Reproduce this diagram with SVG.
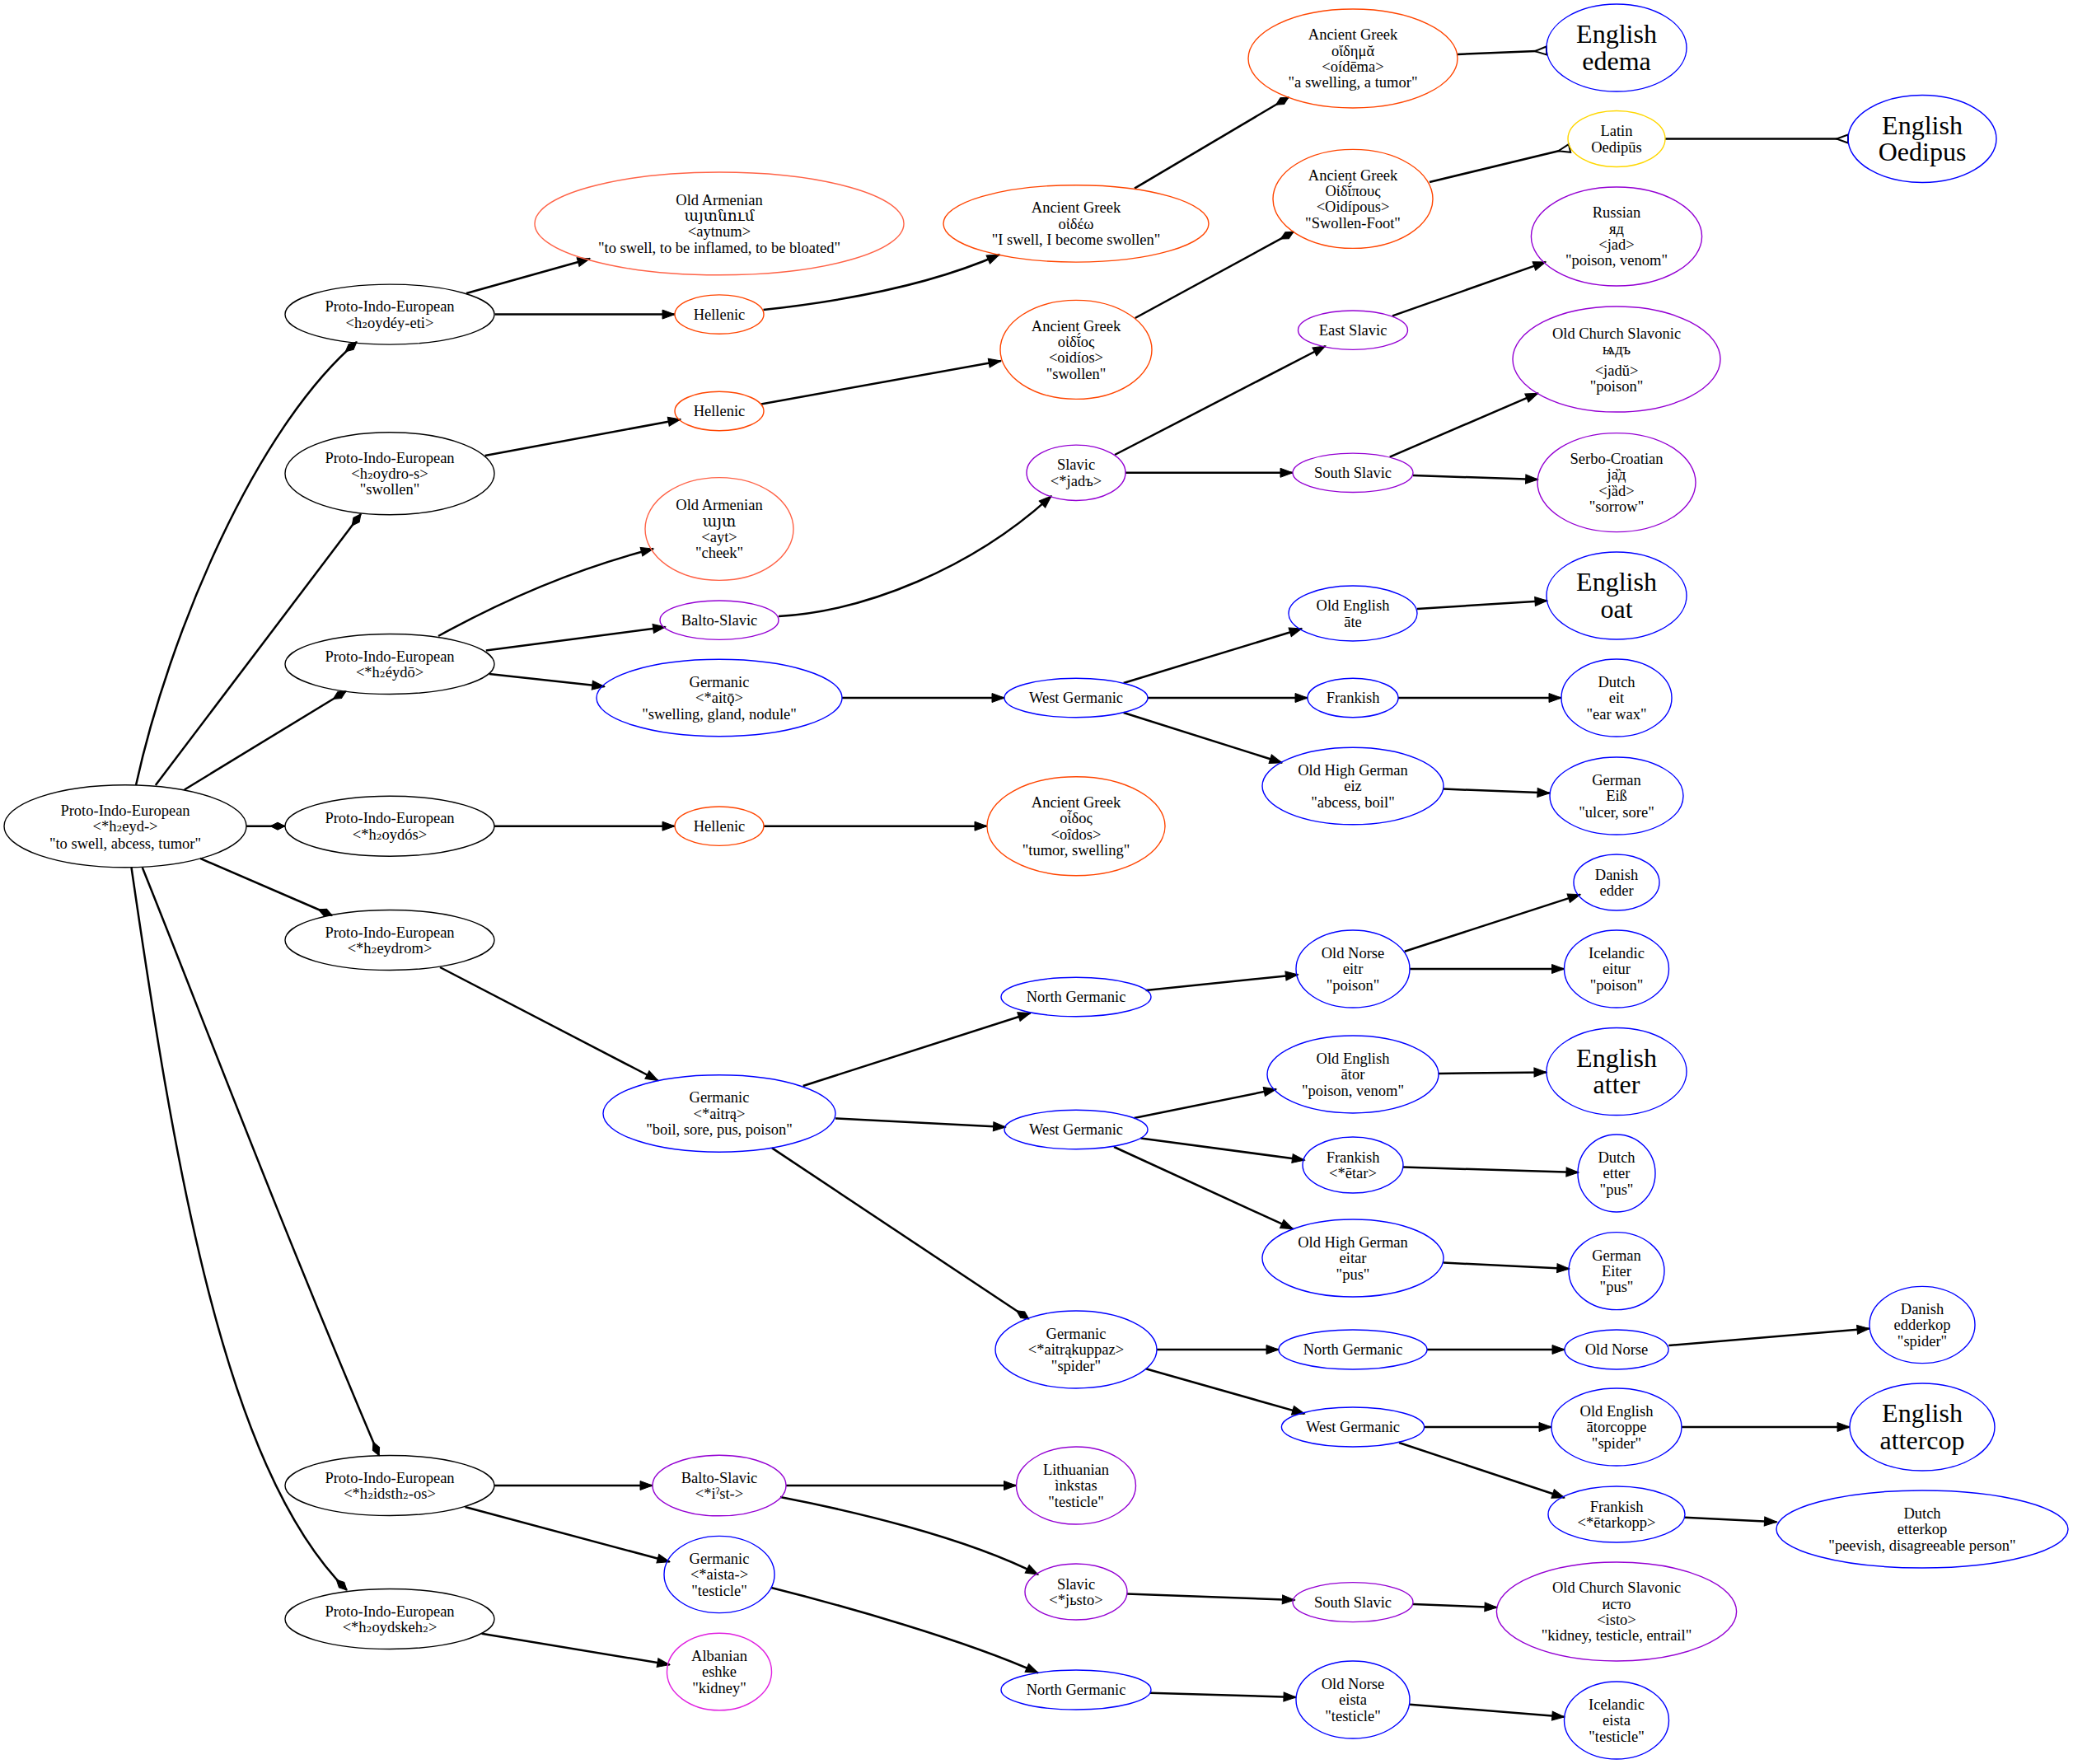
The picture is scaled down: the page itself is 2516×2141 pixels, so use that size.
<svg xmlns="http://www.w3.org/2000/svg" width="2516" height="2141" viewBox="0 0 2516 2141">
<style>
.t{font-family:"Liberation Serif","DejaVu Serif","Noto Sans",serif;font-size:18.5px;text-anchor:middle;fill:#000}
.big{font-size:32px}
.s{font-family:"DejaVu Serif","Liberation Serif",serif;font-size:17px}
ellipse{fill:none;stroke-width:1.4}
.k{stroke:#000}.gr{stroke:#ff4500}.hy{stroke:#ff6347}.sl{stroke:#9400d3}.ge{stroke:#0000ff}.la{stroke:#ffd700}.sq{stroke:#e020e0}
#edges path{fill:none;stroke:#000;stroke-width:2.5}
.a{marker-end:url(#arr)}.d{marker-end:url(#dia)}.o{marker-end:url(#oinv)}
</style>
<defs>
<marker id="arr" markerUnits="userSpaceOnUse" markerWidth="16" markerHeight="12" refX="15" refY="6" orient="auto" overflow="visible"><path d="M0,0.5 L15,6 L0,11.5 z" fill="#000" stroke="#000" stroke-width="1"/></marker>
<marker id="dia" markerUnits="userSpaceOnUse" markerWidth="19" markerHeight="11" refX="18" refY="5" orient="auto" overflow="visible"><path d="M0,5 L9,0.5 L18,5 L9,9.5 z" fill="#000" stroke="#000" stroke-width="1"/></marker>
<marker id="oinv" markerUnits="userSpaceOnUse" markerWidth="16" markerHeight="12" refX="14" refY="5" orient="auto" overflow="visible"><path d="M14,0 L0,5 L14,10 z" fill="#fff" stroke="#000" stroke-width="2"/></marker>
</defs>
<rect width="2516" height="2141" fill="#fff"/>
<g id="edges">
<path class="d" d="M165,953 C205,770 310,520 433,415"/>
<path class="d" d="M188.8,953 L438,623.8"/>
<path class="d" d="M223.8,958.5 L419.8,839"/>
<path class="d" d="M299,1002.7 L346,1002.7"/>
<path class="d" d="M243,1041.9 L403,1111"/>
<path class="d" d="M172.8,1053 C240,1220 330,1460 460,1766.8"/>
<path class="d" d="M159.5,1053 C210,1400 270,1780 421,1930"/>
<path class="a" d="M566,356 L716,314"/>
<path class="a" d="M600.6,381.6 L819,381.6"/>
<path class="a" d="M926.5,376 C1000,368 1120,350 1213,309"/>
<path class="d" d="M1377,228.6 L1564,118"/>
<path class="o" d="M1768.6,66 L1877,61.5"/>
<path class="a" d="M588.6,553 L826,509"/>
<path class="a" d="M923.7,490.4 L1215,438"/>
<path class="d" d="M1377.7,386 L1570,281.4"/>
<path class="o" d="M1735,221 L1905,180"/>
<path class="o" d="M2021,168.5 L2243,168.5"/>
<path class="a" d="M532,772 C590,740 680,695 793,666"/>
<path class="a" d="M589.8,789.6 L807.6,761"/>
<path class="a" d="M593.8,818 L733.7,833.3"/>
<path class="a" d="M945,748 C1050,742 1180,690 1276,602"/>
<path class="a" d="M1353,552 L1608.7,420"/>
<path class="a" d="M1366,573.8 L1569,573.8"/>
<path class="a" d="M1690,383.4 L1876,317.9"/>
<path class="a" d="M1686.7,554.6 L1866.7,477.2"/>
<path class="a" d="M1715,577 L1866.7,582"/>
<path class="a" d="M1022,847 L1219,847"/>
<path class="a" d="M1363.7,829 L1580,763"/>
<path class="a" d="M1393,847 L1587,847"/>
<path class="a" d="M1363.7,865 L1556,925.7"/>
<path class="a" d="M1720,739 L1878,729"/>
<path class="a" d="M1697,847 L1895,847"/>
<path class="a" d="M1752,957.6 L1881,962.6"/>
<path class="a" d="M600,1002.7 L819,1002.7"/>
<path class="a" d="M927,1002.7 L1198,1002.7"/>
<path class="a" d="M534,1174 L798.7,1311.5"/>
<path class="a" d="M974.7,1318 L1250.7,1229.5"/>
<path class="a" d="M1014,1357.4 L1220.6,1368"/>
<path class="d" d="M937,1393.4 L1248.7,1600.8"/>
<path class="a" d="M1390.6,1202 L1575.4,1183"/>
<path class="a" d="M1704.8,1154.8 L1918,1085.6"/>
<path class="a" d="M1711,1176 L1898.5,1176"/>
<path class="a" d="M1376.5,1357 L1549,1322"/>
<path class="a" d="M1384.5,1381.6 L1583.4,1408"/>
<path class="a" d="M1352,1392 L1569.4,1491.7"/>
<path class="a" d="M1746,1303 L1877,1301.4"/>
<path class="a" d="M1703,1416.6 L1916,1423"/>
<path class="a" d="M1752,1532.6 L1904.8,1539.9"/>
<path class="a" d="M1404,1638 L1552,1638"/>
<path class="a" d="M1390.6,1661.3 L1583.4,1715.9"/>
<path class="a" d="M1732,1638 L1899,1638"/>
<path class="a" d="M2025.3,1633 L2269,1612.6"/>
<path class="a" d="M1728.6,1732 L1883,1732"/>
<path class="a" d="M1698,1751 L1898.8,1817.7"/>
<path class="a" d="M2041,1732 L2245,1732"/>
<path class="a" d="M2045,1841.8 L2156.5,1847.3"/>
<path class="a" d="M600,1803 L792,1803"/>
<path class="a" d="M564.5,1829 L812.8,1895.5"/>
<path class="a" d="M954,1803 L1233.5,1803"/>
<path class="a" d="M947,1817 C1030,1833 1170,1865 1260,1911"/>
<path class="a" d="M1367.7,1934.6 L1571.4,1941.9"/>
<path class="a" d="M1715,1946.9 L1817,1951"/>
<path class="a" d="M936,1927 C1020,1948 1170,1990 1260,2030.5"/>
<path class="a" d="M1395.8,2054.7 L1573,2060"/>
<path class="a" d="M1711,2068.7 L1898.8,2083.8"/>
<path class="a" d="M584.6,1982.8 L812.8,2020.5"/>
</g>
<g id="pie_root"><ellipse class="k" cx="152" cy="1002.7" rx="147" ry="50"/><text class="t" x="152" y="989.6"><tspan x="152">Proto-Indo-European</tspan><tspan x="152" dy="19.4">&lt;*h<tspan class="s">₂</tspan>eyd-&gt;</tspan><tspan x="152" dy="20.5">"to swell, abcess, tumor"</tspan></text></g>
<g id="pie_oydeyeti"><ellipse class="k" cx="473" cy="381.6" rx="127" ry="36.5"/><text class="t" x="473" y="378.2"><tspan x="473">Proto-Indo-European</tspan><tspan x="473" dy="19.4">&lt;h<tspan class="s">₂</tspan>oydéy-eti&gt;</tspan></text></g>
<g id="pie_oydros"><ellipse class="k" cx="473" cy="574.7" rx="127" ry="50"/><text class="t" x="473" y="561.6"><tspan x="473">Proto-Indo-European</tspan><tspan x="473" dy="19.4">&lt;h<tspan class="s">₂</tspan>oydro-s&gt;</tspan><tspan x="473" dy="19.4">"swollen"</tspan></text></g>
<g id="pie_eydo"><ellipse class="k" cx="473" cy="806" rx="127" ry="36.5"/><text class="t" x="473" y="802.6"><tspan x="473">Proto-Indo-European</tspan><tspan x="473" dy="19.4">&lt;*h<tspan class="s">₂</tspan>éydō&gt;</tspan></text></g>
<g id="pie_oydos"><ellipse class="k" cx="473" cy="1002.7" rx="127" ry="36.5"/><text class="t" x="473" y="999.3"><tspan x="473">Proto-Indo-European</tspan><tspan x="473" dy="19.4">&lt;*h<tspan class="s">₂</tspan>oydós&gt;</tspan></text></g>
<g id="pie_eydrom"><ellipse class="k" cx="473" cy="1141" rx="127" ry="36.5"/><text class="t" x="473" y="1137.6"><tspan x="473">Proto-Indo-European</tspan><tspan x="473" dy="19.4">&lt;*h<tspan class="s">₂</tspan>eydrom&gt;</tspan></text></g>
<g id="pie_idsthos"><ellipse class="k" cx="473" cy="1803" rx="127" ry="36.5"/><text class="t" x="473" y="1799.6"><tspan x="473">Proto-Indo-European</tspan><tspan x="473" dy="19.4">&lt;*h<tspan class="s">₂</tspan>idsth<tspan class="s">₂</tspan>-os&gt;</tspan></text></g>
<g id="pie_oydskeh"><ellipse class="k" cx="473" cy="1965" rx="127" ry="36.5"/><text class="t" x="473" y="1961.6"><tspan x="473">Proto-Indo-European</tspan><tspan x="473" dy="19.4">&lt;*h<tspan class="s">₂</tspan>oydskeh<tspan class="s">₂</tspan>&gt;</tspan></text></g>
<g id="xcl_aytnum"><ellipse class="hy" cx="873" cy="271.4" rx="224" ry="62.4"/><text class="t" x="873" y="248.6"><tspan x="873">Old Armenian</tspan><tspan x="873" dy="19.4">այտնում</tspan><tspan x="873" dy="19.4">&lt;aytnum&gt;</tspan><tspan x="873" dy="19.4">"to swell, to be inflamed, to be bloated"</tspan></text></g>
<g id="hel1"><ellipse class="gr" cx="873" cy="381.6" rx="54" ry="23.7"/><text class="t" x="873" y="387.9">Hellenic</text></g>
<g id="hel2"><ellipse class="gr" cx="873" cy="499" rx="54" ry="23.7"/><text class="t" x="873" y="505.3">Hellenic</text></g>
<g id="xcl_ayt"><ellipse class="hy" cx="873" cy="642" rx="90" ry="62.4"/><text class="t" x="873" y="619.2"><tspan x="873">Old Armenian</tspan><tspan x="873" dy="19.4">այտ</tspan><tspan x="873" dy="19.4">&lt;ayt&gt;</tspan><tspan x="873" dy="19.4">"cheek"</tspan></text></g>
<g id="bsl1"><ellipse class="sl" cx="873" cy="752.7" rx="72" ry="23.7"/><text class="t" x="873" y="759">Balto-Slavic</text></g>
<g id="gem_aito"><ellipse class="ge" cx="873" cy="847" rx="149" ry="46.7"/><text class="t" x="873" y="833.9"><tspan x="873">Germanic</tspan><tspan x="873" dy="19.4">&lt;*aitǭ&gt;</tspan><tspan x="873" dy="19.4">"swelling, gland, nodule"</tspan></text></g>
<g id="hel3"><ellipse class="gr" cx="873" cy="1002.7" rx="54" ry="23.7"/><text class="t" x="873" y="1009">Hellenic</text></g>
<g id="gem_aitra"><ellipse class="ge" cx="873" cy="1351.5" rx="141" ry="46.7"/><text class="t" x="873" y="1338.4"><tspan x="873">Germanic</tspan><tspan x="873" dy="19.4">&lt;*aitrą&gt;</tspan><tspan x="873" dy="19.4">"boil, sore, pus, poison"</tspan></text></g>
<g id="bsl2"><ellipse class="sl" cx="873" cy="1803" rx="81" ry="36.8"/><text class="t" x="873" y="1799.6"><tspan x="873">Balto-Slavic</tspan><tspan x="873" dy="19.4">&lt;*iˀst-&gt;</tspan></text></g>
<g id="gem_aista"><ellipse class="ge" cx="873" cy="1911" rx="67" ry="46.6"/><text class="t" x="873" y="1897.9"><tspan x="873">Germanic</tspan><tspan x="873" dy="19.4">&lt;*aista-&gt;</tspan><tspan x="873" dy="19.4">"testicle"</tspan></text></g>
<g id="sqi_eshke"><ellipse class="sq" cx="873" cy="2029" rx="63.5" ry="46.8"/><text class="t" x="873" y="2015.9"><tspan x="873">Albanian</tspan><tspan x="873" dy="19.4">eshke</tspan><tspan x="873" dy="19.4">"kidney"</tspan></text></g>
<g id="grc_oideo"><ellipse class="gr" cx="1306" cy="271.4" rx="161" ry="46.7"/><text class="t" x="1306" y="258.3"><tspan x="1306">Ancient Greek</tspan><tspan x="1306" dy="19.4">οἰδέω</tspan><tspan x="1306" dy="19.4">"I swell, I become swollen"</tspan></text></g>
<g id="grc_oidios"><ellipse class="gr" cx="1306" cy="424.4" rx="92" ry="60"/><text class="t" x="1306" y="401.6"><tspan x="1306">Ancient Greek</tspan><tspan x="1306" dy="19.4">οἰδῐ́ος</tspan><tspan x="1306" dy="19.4">&lt;oidíos&gt;</tspan><tspan x="1306" dy="19.4">"swollen"</tspan></text></g>
<g id="sla_jad"><ellipse class="sl" cx="1306" cy="573.8" rx="60" ry="33.7"/><text class="t" x="1306" y="570.4"><tspan x="1306">Slavic</tspan><tspan x="1306" dy="19.4">&lt;*jadъ&gt;</tspan></text></g>
<g id="gmw1"><ellipse class="ge" cx="1306" cy="847" rx="87" ry="23.7"/><text class="t" x="1306" y="853.3">West Germanic</text></g>
<g id="grc_oidos"><ellipse class="gr" cx="1306" cy="1002.7" rx="108" ry="60"/><text class="t" x="1306" y="979.9"><tspan x="1306">Ancient Greek</tspan><tspan x="1306" dy="19.4">οἶδος</tspan><tspan x="1306" dy="19.4">&lt;oîdos&gt;</tspan><tspan x="1306" dy="19.4">"tumor, swelling"</tspan></text></g>
<g id="gmq1"><ellipse class="ge" cx="1306" cy="1210" rx="91" ry="23.7"/><text class="t" x="1306" y="1216.3">North Germanic</text></g>
<g id="gmw2"><ellipse class="ge" cx="1306" cy="1371" rx="87" ry="23.7"/><text class="t" x="1306" y="1377.3">West Germanic</text></g>
<g id="gem_spider"><ellipse class="ge" cx="1306" cy="1638" rx="98" ry="47"/><text class="t" x="1306" y="1624.9"><tspan x="1306">Germanic</tspan><tspan x="1306" dy="19.4">&lt;*aitrąkuppaz&gt;</tspan><tspan x="1306" dy="19.4">"spider"</tspan></text></g>
<g id="lit"><ellipse class="sl" cx="1306" cy="1803" rx="72.5" ry="47"/><text class="t" x="1306" y="1789.9"><tspan x="1306">Lithuanian</tspan><tspan x="1306" dy="19.4">ìnkstas</tspan><tspan x="1306" dy="19.4">"testicle"</tspan></text></g>
<g id="sla_jisto"><ellipse class="sl" cx="1306" cy="1932" rx="62" ry="34"/><text class="t" x="1306" y="1928.6"><tspan x="1306">Slavic</tspan><tspan x="1306" dy="19.4">&lt;*jьsto&gt;</tspan></text></g>
<g id="gmq3"><ellipse class="ge" cx="1306" cy="2051" rx="91" ry="24"/><text class="t" x="1306" y="2057.3">North Germanic</text></g>
<g id="grc_oidema"><ellipse class="gr" cx="1642" cy="71" rx="127" ry="60"/><text class="t" x="1642" y="48.2"><tspan x="1642">Ancient Greek</tspan><tspan x="1642" dy="19.4">οἴδημᾰ</tspan><tspan x="1642" dy="19.4">&lt;oídēma&gt;</tspan><tspan x="1642" dy="19.4">"a swelling, a tumor"</tspan></text></g>
<g id="grc_oidipous"><ellipse class="gr" cx="1642" cy="241.4" rx="97" ry="60"/><text class="t" x="1642" y="218.6"><tspan x="1642">Ancient Greek</tspan><tspan x="1642" dy="19.4">Οἰδῐ́πους</tspan><tspan x="1642" dy="19.4">&lt;Oidípous&gt;</tspan><tspan x="1642" dy="19.4">"Swollen-Foot"</tspan></text></g>
<g id="zle"><ellipse class="sl" cx="1642" cy="400.7" rx="66.5" ry="23.7"/><text class="t" x="1642" y="407">East Slavic</text></g>
<g id="zls1"><ellipse class="sl" cx="1642" cy="573.8" rx="73" ry="23.7"/><text class="t" x="1642" y="580.1">South Slavic</text></g>
<g id="ang_ate"><ellipse class="ge" cx="1642" cy="744.5" rx="78" ry="33.5"/><text class="t" x="1642" y="741.1"><tspan x="1642">Old English</tspan><tspan x="1642" dy="19.4">āte</tspan></text></g>
<g id="frk1"><ellipse class="ge" cx="1642" cy="847" rx="55" ry="23.7"/><text class="t" x="1642" y="853.3">Frankish</text></g>
<g id="goh_eiz"><ellipse class="ge" cx="1642" cy="954" rx="110" ry="46.7"/><text class="t" x="1642" y="940.9"><tspan x="1642">Old High German</tspan><tspan x="1642" dy="19.4">eiz</tspan><tspan x="1642" dy="19.4">"abcess, boil"</tspan></text></g>
<g id="non_eitr"><ellipse class="ge" cx="1642" cy="1176" rx="69" ry="47"/><text class="t" x="1642" y="1162.9"><tspan x="1642">Old Norse</tspan><tspan x="1642" dy="19.4">eitr</tspan><tspan x="1642" dy="19.4">"poison"</tspan></text></g>
<g id="ang_ator"><ellipse class="ge" cx="1642" cy="1304" rx="104" ry="47"/><text class="t" x="1642" y="1290.9"><tspan x="1642">Old English</tspan><tspan x="1642" dy="19.4">ātor</tspan><tspan x="1642" dy="19.4">"poison, venom"</tspan></text></g>
<g id="frk_etar"><ellipse class="ge" cx="1642" cy="1414" rx="61" ry="34"/><text class="t" x="1642" y="1410.6"><tspan x="1642">Frankish</tspan><tspan x="1642" dy="19.4">&lt;*ētar&gt;</tspan></text></g>
<g id="goh_eitar"><ellipse class="ge" cx="1642" cy="1527" rx="110" ry="47"/><text class="t" x="1642" y="1513.9"><tspan x="1642">Old High German</tspan><tspan x="1642" dy="19.4">eitar</tspan><tspan x="1642" dy="19.4">"pus"</tspan></text></g>
<g id="gmq2"><ellipse class="ge" cx="1642" cy="1638" rx="90" ry="24"/><text class="t" x="1642" y="1644.3">North Germanic</text></g>
<g id="gmw3"><ellipse class="ge" cx="1642" cy="1732" rx="86.6" ry="24"/><text class="t" x="1642" y="1738.3">West Germanic</text></g>
<g id="zls2"><ellipse class="sl" cx="1642" cy="1944.6" rx="73" ry="24"/><text class="t" x="1642" y="1950.9">South Slavic</text></g>
<g id="non_eista"><ellipse class="ge" cx="1642" cy="2063" rx="69" ry="47"/><text class="t" x="1642" y="2049.9"><tspan x="1642">Old Norse</tspan><tspan x="1642" dy="19.4">eista</tspan><tspan x="1642" dy="19.4">"testicle"</tspan></text></g>
<g id="en_edema"><ellipse class="ge" cx="1962" cy="58" rx="85" ry="53"/><text class="t big" x="1962" y="52.4"><tspan x="1962">English</tspan><tspan x="1962" dy="32.3">edema</tspan></text></g>
<g id="la_oedipus"><ellipse class="la" cx="1962" cy="168.5" rx="59" ry="34"/><text class="t" x="1962" y="165.1"><tspan x="1962">Latin</tspan><tspan x="1962" dy="19.4">Oedipūs</tspan></text></g>
<g id="ru_jad"><ellipse class="sl" cx="1962" cy="287" rx="103.6" ry="60"/><text class="t" x="1962" y="264.2"><tspan x="1962">Russian</tspan><tspan x="1962" dy="19.4">яд</tspan><tspan x="1962" dy="19.4">&lt;jad&gt;</tspan><tspan x="1962" dy="19.4">"poison, venom"</tspan></text></g>
<g id="cu_jadu"><ellipse class="sl" cx="1962" cy="436" rx="126" ry="64"/><text class="t" x="1962" y="411"><tspan x="1962">Old Church Slavonic</tspan><tspan x="1962" dy="19">ѩдъ</tspan><tspan x="1962" dy="25.5">&lt;jadŭ&gt;</tspan><tspan x="1962" dy="19">"poison"</tspan></text></g>
<g id="sh_jad"><ellipse class="sl" cx="1962" cy="585.6" rx="96" ry="60"/><text class="t" x="1962" y="562.8"><tspan x="1962">Serbo-Croatian</tspan><tspan x="1962" dy="19.4">ја̏д</tspan><tspan x="1962" dy="19.4">&lt;jȁd&gt;</tspan><tspan x="1962" dy="19.4">"sorrow"</tspan></text></g>
<g id="en_oat"><ellipse class="ge" cx="1962" cy="723" rx="85" ry="53"/><text class="t big" x="1962" y="717.4"><tspan x="1962">English</tspan><tspan x="1962" dy="32.3">oat</tspan></text></g>
<g id="nl_eit"><ellipse class="ge" cx="1962" cy="847" rx="67" ry="47"/><text class="t" x="1962" y="833.9"><tspan x="1962">Dutch</tspan><tspan x="1962" dy="19.4">eit</tspan><tspan x="1962" dy="19.4">"ear wax"</tspan></text></g>
<g id="de_eiss"><ellipse class="ge" cx="1962" cy="966" rx="81" ry="47"/><text class="t" x="1962" y="952.9"><tspan x="1962">German</tspan><tspan x="1962" dy="19.4">Eiß</tspan><tspan x="1962" dy="19.4">"ulcer, sore"</tspan></text></g>
<g id="da_edder"><ellipse class="ge" cx="1962" cy="1071" rx="52" ry="34"/><text class="t" x="1962" y="1067.6"><tspan x="1962">Danish</tspan><tspan x="1962" dy="19.4">edder</tspan></text></g>
<g id="is_eitur"><ellipse class="ge" cx="1962" cy="1176" rx="63.5" ry="47"/><text class="t" x="1962" y="1162.9"><tspan x="1962">Icelandic</tspan><tspan x="1962" dy="19.4">eitur</tspan><tspan x="1962" dy="19.4">"poison"</tspan></text></g>
<g id="en_atter"><ellipse class="ge" cx="1962" cy="1300.5" rx="85" ry="53"/><text class="t big" x="1962" y="1294.9"><tspan x="1962">English</tspan><tspan x="1962" dy="32.3">atter</tspan></text></g>
<g id="nl_etter"><ellipse class="ge" cx="1962" cy="1424" rx="47" ry="47"/><text class="t" x="1962" y="1410.9"><tspan x="1962">Dutch</tspan><tspan x="1962" dy="19.4">etter</tspan><tspan x="1962" dy="19.4">"pus"</tspan></text></g>
<g id="de_eiter"><ellipse class="ge" cx="1962" cy="1542.6" rx="58" ry="47"/><text class="t" x="1962" y="1529.5"><tspan x="1962">German</tspan><tspan x="1962" dy="19.4">Eiter</tspan><tspan x="1962" dy="19.4">"pus"</tspan></text></g>
<g id="non_old"><ellipse class="ge" cx="1962" cy="1638" rx="63" ry="24"/><text class="t" x="1962" y="1644.3">Old Norse</text></g>
<g id="ang_atorcoppe"><ellipse class="ge" cx="1962" cy="1732" rx="79" ry="47"/><text class="t" x="1962" y="1718.9"><tspan x="1962">Old English</tspan><tspan x="1962" dy="19.4">ātorcoppe</tspan><tspan x="1962" dy="19.4">"spider"</tspan></text></g>
<g id="frk_etarkopp"><ellipse class="ge" cx="1962" cy="1838" rx="83" ry="34"/><text class="t" x="1962" y="1834.6"><tspan x="1962">Frankish</tspan><tspan x="1962" dy="19.4">&lt;*ētarkopp&gt;</tspan></text></g>
<g id="cu_isto"><ellipse class="sl" cx="1962" cy="1956" rx="145.6" ry="60"/><text class="t" x="1962" y="1933.2"><tspan x="1962">Old Church Slavonic</tspan><tspan x="1962" dy="19.4">исто</tspan><tspan x="1962" dy="19.4">&lt;isto&gt;</tspan><tspan x="1962" dy="19.4">"kidney, testicle, entrail"</tspan></text></g>
<g id="is_eista"><ellipse class="ge" cx="1962" cy="2088" rx="63.5" ry="47"/><text class="t" x="1962" y="2074.9"><tspan x="1962">Icelandic</tspan><tspan x="1962" dy="19.4">eista</tspan><tspan x="1962" dy="19.4">"testicle"</tspan></text></g>
<g id="en_oedipus"><ellipse class="ge" cx="2333" cy="168.5" rx="90" ry="53"/><text class="t big" x="2333" y="162.9"><tspan x="2333">English</tspan><tspan x="2333" dy="32.3">Oedipus</tspan></text></g>
<g id="da_edderkop"><ellipse class="ge" cx="2333" cy="1608" rx="64" ry="46.6"/><text class="t" x="2333" y="1594.9"><tspan x="2333">Danish</tspan><tspan x="2333" dy="19.4">edderkop</tspan><tspan x="2333" dy="19.4">"spider"</tspan></text></g>
<g id="en_attercop"><ellipse class="ge" cx="2333" cy="1732" rx="88" ry="53"/><text class="t big" x="2333" y="1726.4"><tspan x="2333">English</tspan><tspan x="2333" dy="32.3">attercop</tspan></text></g>
<g id="nl_etterkop"><ellipse class="ge" cx="2333" cy="1856" rx="177" ry="47"/><text class="t" x="2333" y="1842.9"><tspan x="2333">Dutch</tspan><tspan x="2333" dy="19.4">etterkop</tspan><tspan x="2333" dy="19.4">"peevish, disagreeable person"</tspan></text></g>
</svg>
